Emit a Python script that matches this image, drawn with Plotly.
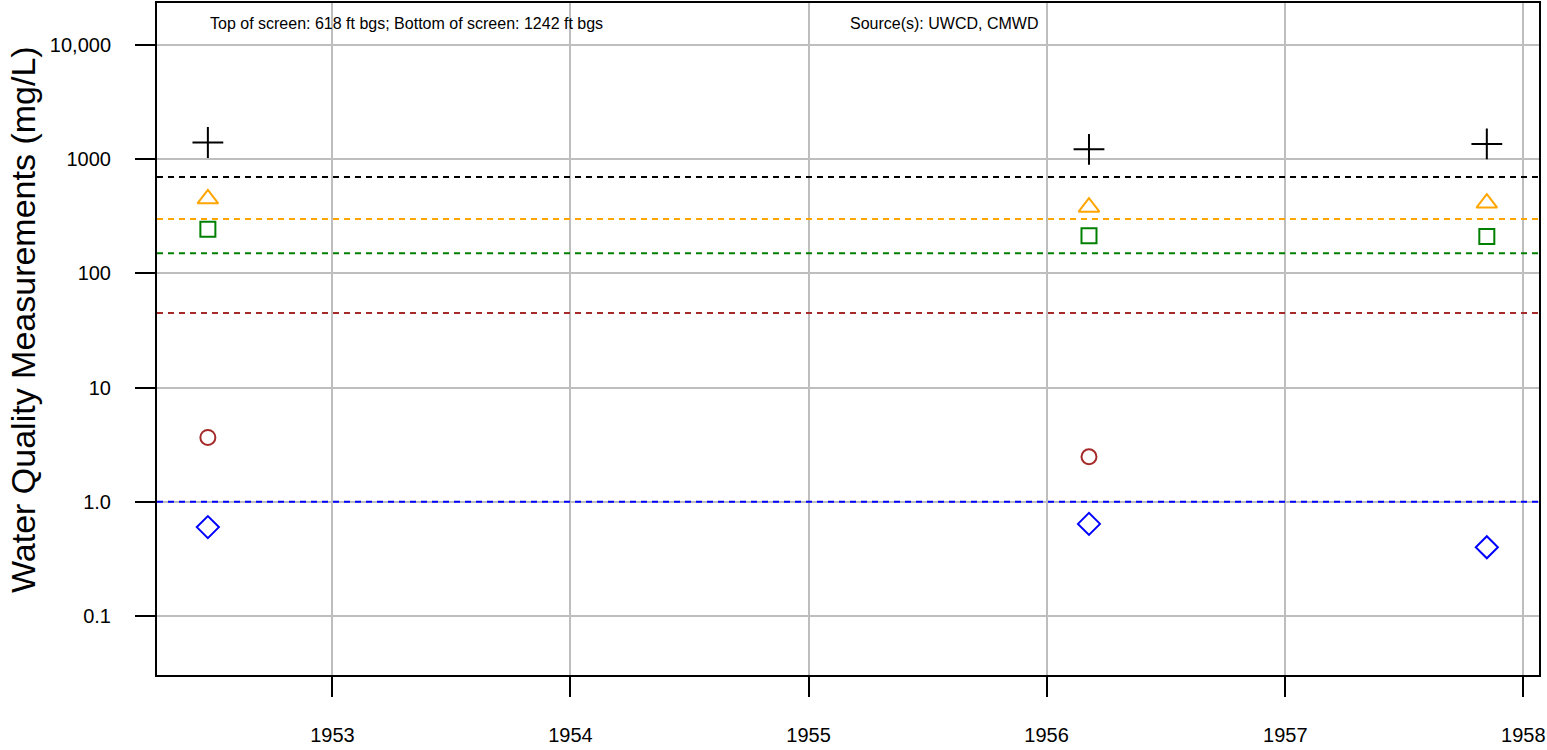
import plotly.graph_objects as go

# sample dates and measured values (mg/L)
dates = ["1952-06-24", "1956-03-06", "1957-11-06"]
tds = [1400, 1220, 1360]          # black plus
sulfate = [450, 380, 413]         # orange triangle
chloride = [244, 214, 210]        # green square
nitrate = [3.66, 2.48, None]      # brown circle
boron = [0.60, 0.64, 0.40]        # blue diamond

# reference levels (dashed lines)
thresholds = [700, 300, 150, 45, 1.0]
threshold_colors = ["black", "orange", "green", "brown", "blue"]

y_tickvals = [0.1, 1, 10, 100, 1000, 10000]
y_ticktext = ["0.1", "1.0", "10", "100", "1000", "10,000"]

x_range = ["1952-04-07", "1958-01-25"]

fig = go.Figure()

for level, c in zip(thresholds, threshold_colors):
    fig.add_trace(go.Scatter(x=x_range, y=[level, level], mode="lines",
                             line=dict(color=c, width=2, dash="6px,5px"),
                             showlegend=False, hoverinfo="skip"))

series = [
    (tds, "cross-thin-open", "black", 22),
    (sulfate, "triangle-up-open", "orange", 18),
    (chloride, "square-open", "green", 15),
    (nitrate, "circle-open", "brown", 15),
    (boron, "diamond-open", "blue", 17),
]
for vals, sym, c, sz in series:
    fig.add_trace(go.Scatter(x=dates, y=vals, mode="markers",
                             marker=dict(symbol=sym, size=sz, color=c,
                                         line=dict(color=c, width=2)),
                             showlegend=False))

fig.update_layout(
    width=1547, height=750,
    margin=dict(l=157, r=8, t=3, b=75, autoexpand=False),
    plot_bgcolor="white", paper_bgcolor="white",
    font=dict(family="Liberation Sans, Arial", size=20, color="black"),
    annotations=[
        dict(text="Top of screen: 618 ft bgs; Bottom of screen: 1242 ft bgs",
             xref="paper", yref="paper", x=0.037, y=0.969,
             xanchor="left", yanchor="middle", showarrow=False,
             font=dict(size=16)),
        dict(text="Source(s): UWCD, CMWD",
             xref="paper", yref="paper", x=0.5, y=0.969,
             xanchor="left", yanchor="middle", showarrow=False,
             font=dict(size=16)),
        dict(text="Water Quality Measurements (mg/L)",
             xref="paper", yref="paper", x=-0.0973, y=0.529, textangle=-90,
             xanchor="center", yanchor="middle", showarrow=False,
             font=dict(size=34)),
    ],
)

fig.update_xaxes(
    type="date", range=x_range, tick0="1953-01-01", dtick="M12", tickformat="%Y",
    showgrid=True, gridcolor="#BEBEBE", gridwidth=2,
    showline=True, linecolor="black", linewidth=2, mirror=True,
    ticks="outside", ticklen=20, tickwidth=2, tickcolor="black",
    ticklabelstandoff=21, zeroline=False, automargin=False,
)
fig.update_yaxes(
    type="log", range=[-1.517, 4.368],
    tickvals=y_tickvals, ticktext=y_ticktext,
    showgrid=True, gridcolor="#BEBEBE", gridwidth=2,
    showline=True, linecolor="black", linewidth=2, mirror=True,
    ticks="outside", ticklen=20, tickwidth=2, tickcolor="black",
    ticklabelstandoff=20, zeroline=False, automargin=False,
)

fig.write_html("out.html", config={"displayModeBar": False},
               post_script="document.body.style.margin='0';")
